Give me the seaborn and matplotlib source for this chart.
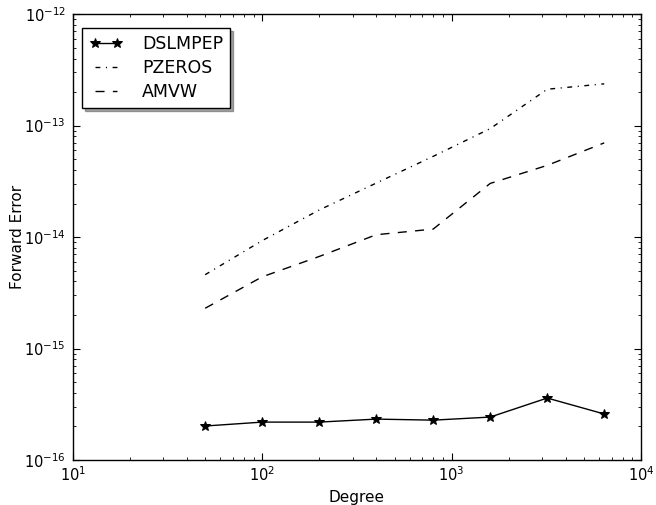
import numpy as np
import pandas as pd
import seaborn as sns
import matplotlib
matplotlib.use("Agg")
import matplotlib.pyplot as plt

# degree of the polynomial
grados = [50, 100, 200, 400, 800, 1600, 3200, 6400]

# forward error per method
err_dslmpep = [2.02e-16, 2.19e-16, 2.19e-16, 2.33e-16, 2.28e-16, 2.43e-16, 3.6e-16, 2.59e-16]
err_pzeros = [4.6e-15, 9.3e-15, 1.75e-14, 3.05e-14, 5.3e-14, 9.4e-14, 2.12e-13, 2.37e-13]
err_amvw = [2.3e-15, 4.4e-15, 6.7e-15, 1.05e-14, 1.18e-14, 3.03e-14, 4.4e-14, 7.0e-14]

sns.set_style("ticks")
plt.rcParams.update({
    "font.family": ["DejaVu Sans"],
    "text.color": "black",
    "axes.labelcolor": "black",
    "axes.unicode_minus": False,
    "mathtext.fontset": "dejavusans",
    "mathtext.default": "regular",
    "xtick.direction": "in",
    "ytick.direction": "in",
    "xtick.top": True,
    "ytick.right": True,
    "xtick.major.size": 5,
    "ytick.major.size": 5,
    "xtick.minor.size": 2.5,
    "ytick.minor.size": 2.5,
    "xtick.major.pad": 4,
    "ytick.major.pad": 5,
    "axes.linewidth": 1.0,
    "axes.edgecolor": "black",
})

fig = plt.figure(figsize=(6.56, 5.05), dpi=100)
ax = fig.add_axes([0.111, 0.089, 0.866, 0.883])

df = pd.DataFrame({"Grado": grados, "DSLMPEP": err_dslmpep,
                   "PZEROS": err_pzeros, "AMVW": err_amvw})

sns.lineplot(data=df, x="Grado", y="DSLMPEP", ax=ax, color="black", linewidth=1,
             marker="*", markersize=7.5, markeredgecolor="black", label="DSLMPEP")
sns.lineplot(data=df, x="Grado", y="PZEROS", ax=ax, color="black", linewidth=1,
             linestyle=(0, (3.5, 4, 0.8, 4)), label="PZEROS")
sns.lineplot(data=df, x="Grado", y="AMVW", ax=ax, color="black", linewidth=1,
             linestyle=(0, (6.5, 6)), label="AMVW")

ax.set_xscale("log")
ax.set_yscale("log")
ax.set_xlim(10, 1e4)
ax.set_ylim(1e-16, 1e-12)
ax.tick_params(which="both", colors="black", labelsize=10.5)
ax.set_xlabel("Degree", fontsize=11, labelpad=4)
ax.set_ylabel("Forward Error", fontsize=11, labelpad=-1)

leg = ax.legend(loc="upper left", bbox_to_anchor=(0.0, 0.9906), fontsize=12.5,
                frameon=True, fancybox=False, shadow=True, numpoints=2,
                handlelength=1.9, handletextpad=1.15, borderpad=0.4,
                labelspacing=0.36, borderaxespad=0.55)
leg.get_frame().set_edgecolor("black")
leg.get_frame().set_linewidth(1.0)
for t in leg.get_texts():
    t.set_color("black")

fig.savefig("out.png", dpi=100)
